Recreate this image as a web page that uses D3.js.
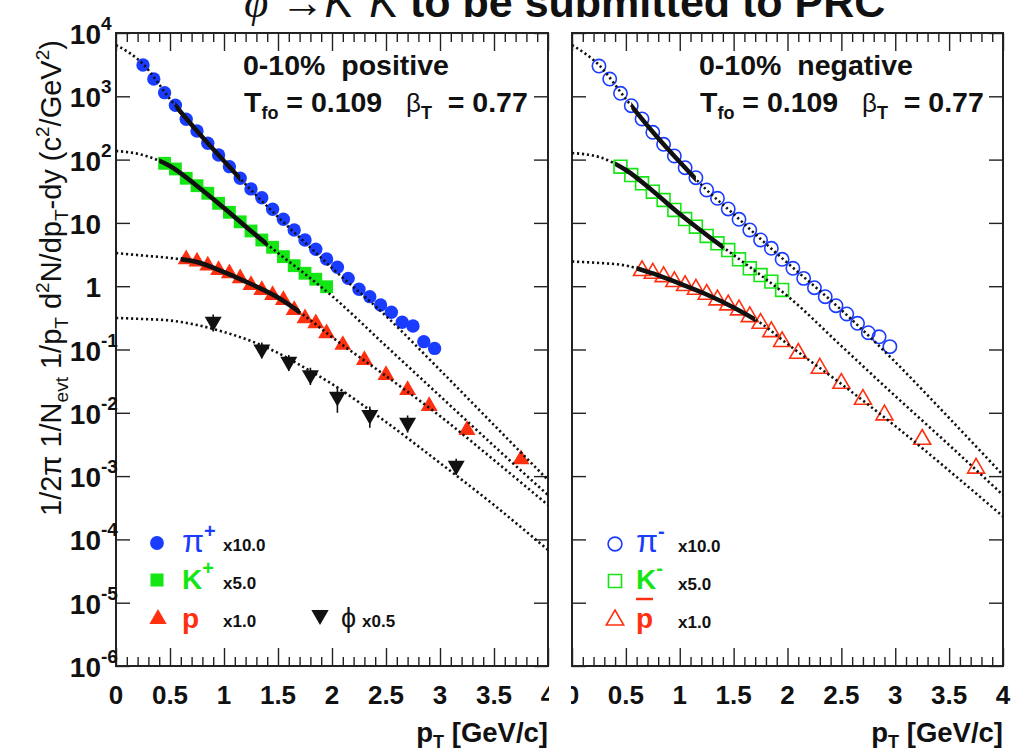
<!DOCTYPE html>
<html>
<head>
<meta charset="utf-8">
<script src="https://cdn.jsdelivr.net/npm/d3@7"></script>
<style>
  body { margin: 0; background: #fff; }
  svg { display: block; font-family: "Liberation Sans", Arial, Helvetica, sans-serif; }
  text { white-space: pre; }
</style>
</head>
<body>
<svg id="chart" width="1019" height="751"></svg>
<script>
// ---- data ----
var piPt  = [0.25,0.35,0.45,0.55,0.65,0.75,0.85,0.95,1.05,1.15,1.25,1.35,1.45,1.55,
             1.65,1.75,1.85,1.95,2.05,2.15,2.25,2.35,2.45,2.55,2.65,2.75,2.85,2.95];
var kPt   = [0.45,0.55,0.65,0.75,0.85,0.95,1.05,1.15,1.25,1.35,1.45,1.55,1.65,1.75,1.85,1.95];
var pPt   = [0.65,0.75,0.85,0.95,1.05,1.15,1.25,1.35,1.45,1.55,1.65,1.75,1.85,1.95,
             2.1,2.3,2.5,2.7,2.9,3.25,3.75];
var phiPt = [0.9,1.35,1.6,1.8,2.05,2.35,2.7,3.15];

// positive (left)
var piPlus = [3120,1875,1140,721,434,283,181,118,77.3,50.7,34.4,25.0,16.4,11.4,
              7.73,5.37,3.83,2.69,1.99,1.33,0.894,0.683,0.505,0.387,0.269,0.235,0.133,0.104];
var kPlus  = [87.4,71.1,50.7,38.7,29.4,20.4,14.7,10.4,7.45,5.37,4.12,2.93,2.11,1.60,1.29,0.98];
var proton = [2.66,2.44,2.11,1.80,1.60,1.33,1.04,0.871,0.726,0.605,0.421,0.311,0.259,0.180,
              0.118,0.0683,0.0395,0.0229,0.0128,0.00535,0.00184];
var phiVal = [0.275,0.1007,0.0641,0.0395,0.0180,0.00923,0.00698,0.00146];
var phiErr = [0.083,0.028,0.018,0.012,0.008,0.0034,0.0021,0.00042];

// negative (right)
var piMinus = [3010,1875,1115,711,438,270,174.5,114,74.5,51.8,33.1,24.5,16.6,11.4,
               7.73,5.37,3.97,2.66,1.92,1.33,0.947,0.683,0.492,0.364,0.259,0.184,0.159,0.111];
var kMinus  = [77.3,57.1,42.2,31.1,23.0,16.0,11.5,8.71,6.21,4.76,3.73,2.66,1.92,1.50,1.18,0.871];
var pbar    = [1.76,1.60,1.41,1.18,1.02,0.894,0.745,0.605,0.505,0.421,0.330,0.259,0.191,0.133,
               0.0871,0.0505,0.0292,0.0163,0.00923,0.00381,0.00133];

// blast-wave curves (dotted), read at these pT
var modelPt = [0,0.25,0.5,0.75,1,1.25,1.5,1.75,2,2.5,3,3.5,4];
var bwPiPlus  = [6460,3240,906,283,95.0,33.1,12.4,4.90,1.94,0.338,0.0474,0.00641,0.000867];
var bwKPlus   = [137,118,79.3,38.3,17.2,7.44,3.34,1.56,0.700,0.1135,0.0184,0.00299,0.000502];
var bwProton  = [3.34,3.05,2.79,2.41,1.67,1.08,0.663,0.338,0.157,0.0381,0.00889,0.00179,0.000349];
var bwPhi     = [0.315,0.303,0.287,0.244,0.189,0.136,0.0881,0.0510,0.0285,0.00716,0.00161,0.000349,6.81e-5];
var bwPiMinus = [6460,3123,906,273,91.6,33.1,13.8,5.57,2.33,0.421,0.0635,0.00828,0.00104];
var bwKMinus  = [127,110,68.5,31.9,13.8,6.44,3.11,1.50,0.700,0.1135,0.0184,0.00310,0.000502];
var bwPbar    = [2.45,2.33,2.12,1.59,1.10,0.740,0.461,0.262,0.122,0.0285,0.00618,0.00122,0.000230];

// fit ranges (solid part of the curves)
var piFit = [0.55, 1.15];
var kFit  = [0.4, 1.4];
var pFit  = [0.6, 1.7];

var scaleLabels = ['x10.0', 'x5.0', 'x1.0', 'x0.5'];
var xMajor = [0,0.5,1,1.5,2,2.5,3,3.5,4];
var xTickLabels = ['0','0.5','1','1.5','2','2.5','3','3.5','4'];
var yExp = [-6,-5,-4,-3,-2,-1,0,1,2,3,4];

// ---- style ----
var blue = '#1a3cff', green = '#14e614', red = '#ff3010', ink = '#111';
var plotTop = 33, plotBottom = 666;

var svg = d3.select('#chart');
var y = d3.scaleLog().domain([1e-6, 1e4]).range([plotBottom, plotTop]);

var defs = svg.append('defs');

function zip(xs, ys) { return xs.map(function(v, i) { return [v, ys[i]]; }); }

function drawPanel(p, idx) {
    var x = d3.scaleLinear().domain([0, 4]).range([p.x0, p.x1]);
    var g = svg.append('g');

    defs.append('clipPath').attr('id', 'plot' + idx).append('rect')
        .attr('x', p.x0).attr('y', plotTop).attr('width', p.x1 - p.x0).attr('height', plotBottom - plotTop);
    defs.append('clipPath').attr('id', 'pad' + idx).append('rect')
        .attr('x', p.padX0).attr('y', 0).attr('width', p.padX1 - p.padX0).attr('height', 751);

    // ticks
    var xMinor = x.ticks(40).filter(function(t) { return xMajor.indexOf(+t.toFixed(2)) < 0; });
    var yMinor = y.ticks().filter(function(t) { return Math.abs(Math.log10(t) - Math.round(Math.log10(t))) > 1e-6; });
    var yMajor = yExp.map(function(e) { return Math.pow(10, e); });

    function styleAxis(a) {
        a.select('.domain').remove();
        a.selectAll('line').attr('stroke', '#222').attr('stroke-width', 1.4);
        a.selectAll('text').remove();
    }
    g.append('g').attr('transform', 'translate(0,' + plotBottom + ')')
        .call(d3.axisBottom(x).tickValues(xMajor).tickSize(-18)).call(styleAxis);
    g.append('g').attr('transform', 'translate(0,' + plotBottom + ')')
        .call(d3.axisBottom(x).tickValues(xMinor).tickSize(-9)).call(styleAxis);
    g.append('g').attr('transform', 'translate(0,' + plotTop + ')')
        .call(d3.axisTop(x).tickValues(xMajor).tickSize(-18)).call(styleAxis);
    g.append('g').attr('transform', 'translate(0,' + plotTop + ')')
        .call(d3.axisTop(x).tickValues(xMinor).tickSize(-9)).call(styleAxis);
    g.append('g').attr('transform', 'translate(' + p.x0 + ',0)')
        .call(d3.axisLeft(y).tickValues(yMajor).tickSize(-14)).call(styleAxis);
    g.append('g').attr('transform', 'translate(' + p.x0 + ',0)')
        .call(d3.axisLeft(y).tickValues(yMinor).tickSize(-7)).call(styleAxis);
    g.append('g').attr('transform', 'translate(' + p.x1 + ',0)')
        .call(d3.axisRight(y).tickValues(yMajor).tickSize(-14)).call(styleAxis);
    g.append('g').attr('transform', 'translate(' + p.x1 + ',0)')
        .call(d3.axisRight(y).tickValues(yMinor).tickSize(-7)).call(styleAxis);

    g.append('rect').attr('x', p.x0).attr('y', plotTop)
        .attr('width', p.x1 - p.x0).attr('height', plotBottom - plotTop)
        .attr('fill', 'none').attr('stroke', '#222').attr('stroke-width', 2);

    // x tick labels
    g.append('g').attr('clip-path', 'url(#pad' + idx + ')')
        .selectAll('text').data(xMajor).join('text')
        .attr('x', function(d) { return x(d); }).attr('y', 704)
        .attr('text-anchor', 'middle').attr('font-size', 26).attr('font-weight', 'bold')
        .attr('fill', ink)
        .text(function(d, i) { return xTickLabels[i]; });

    // x title
    var xt = g.append('text').attr('x', p.x1).attr('y', 742).attr('text-anchor', 'end')
        .attr('font-size', 27.5).attr('font-weight', 'bold').attr('fill', ink);
    xt.append('tspan').text('p');
    xt.append('tspan').attr('font-size', 18).attr('dy', 6).text('T');
    xt.append('tspan').attr('dy', -6).text(' [GeV/c]');

    // panel headers
    g.append('text').attr('x', p.headX).attr('y', 75)
        .attr('font-size', 28.5).attr('font-weight', 'bold').attr('fill', ink)
        .text('0-10%  ' + p.name);
    var tt = g.append('text').attr('x', p.headX + 1).attr('y', 112)
        .attr('font-size', 28.5).attr('font-weight', 'bold').attr('fill', ink);
    tt.append('tspan').text('T');
    tt.append('tspan').attr('font-size', 18).attr('dy', 7).text('fo');
    tt.append('tspan').attr('dy', -7).text(' = 0.109   ');
    tt.append('tspan').attr('font-weight', 'normal').attr('font-size', 26).text('β');
    tt.append('tspan').attr('font-size', 18).attr('dy', 7).text('T');
    tt.append('tspan').attr('dy', -7).text('  = 0.77');

    // markers
    var plot = g.append('g').attr('clip-path', 'url(#plot' + idx + ')');
    p.series.forEach(function(s) {
        var sym = d3.symbol().type(s.shape).size(s.size);
        if (s.err) {
            plot.append('g').selectAll('line').data(zip(s.pt, s.val)).join('line')
                .attr('x1', function(d) { return x(d[0]); })
                .attr('x2', function(d) { return x(d[0]); })
                .attr('y1', function(d, i) { return y(d[1] - s.err[i]); })
                .attr('y2', function(d, i) { return y(d[1] + s.err[i]); })
                .attr('stroke', s.color).attr('stroke-width', 1.6);
        }
        plot.append('g').selectAll('path').data(zip(s.pt, s.val)).join('path')
            .attr('d', sym)
            .attr('transform', function(d) {
                return 'translate(' + x(d[0]) + ',' + y(d[1]) + ')' + (s.flip ? ' rotate(180)' : '');
            })
            .attr('fill', s.open ? 'none' : s.color)
            .attr('stroke', s.color).attr('stroke-width', s.open ? 1.6 : 0);
    });

    // blast-wave curves
    var line = d3.line().x(function(d) { return x(d[0]); }).y(function(d) { return y(d[1]); })
        .curve(d3.curveMonotoneX);
    p.curves.forEach(function(c, ci) {
        plot.append('path').datum(zip(modelPt, c.val)).attr('d', line)
            .attr('fill', 'none').attr('stroke', ink).attr('stroke-width', 2.6)
            .attr('stroke-dasharray', '2.2,2.8');
        if (c.fit) {
            var cid = 'fit' + idx + '_' + ci;
            defs.append('clipPath').attr('id', cid).append('rect')
                .attr('x', x(c.fit[0])).attr('y', plotTop)
                .attr('width', x(c.fit[1]) - x(c.fit[0])).attr('height', plotBottom - plotTop);
            plot.append('path').datum(zip(modelPt, c.val)).attr('d', line)
                .attr('clip-path', 'url(#' + cid + ')')
                .attr('fill', 'none').attr('stroke', ink).attr('stroke-width', 4.5);
        }
    });

    // legend
    var lg = g.append('g');
    p.legend.forEach(function(l, i) {
        var sym = d3.symbol().type(l.shape).size(l.size);
        lg.append('path').attr('d', sym)
            .attr('transform', 'translate(' + l.mx + ',' + l.my + ')' + (l.flip ? ' rotate(180)' : ''))
            .attr('fill', l.open ? 'none' : l.color)
            .attr('stroke', l.color).attr('stroke-width', l.open ? 1.6 : 0);
        var t = lg.append('text').attr('x', l.tx).attr('y', l.ty)
            .attr('font-weight', 'bold').attr('fill', l.color);
        t.append('tspan').attr('font-size', l.bigSize).attr('font-weight', l.bigWeight)
            .text(l.main);
        if (l.sup) t.append('tspan').attr('font-size', 20).attr('dy', -14).text(l.sup);
        if (l.bar) {
            lg.append('line').attr('x1', l.tx).attr('x2', l.tx + 17)
                .attr('y1', l.ty - 29).attr('y2', l.ty - 29)
                .attr('stroke', l.color).attr('stroke-width', 2.5);
        }
        lg.append('text').attr('x', l.sx).attr('y', l.sy)
            .attr('font-size', 17).attr('font-weight', 'bold').attr('fill', ink)
            .text(l.scale);
    });
}

var panels = [
    {
        x0: 116, x1: 548, padX0: 0, padX1: 549, headX: 243, name: 'positive',
        series: [
            {pt: piPt, val: piPlus, shape: d3.symbolCircle, size: 140, color: blue},
            {pt: kPt, val: kPlus, shape: d3.symbolSquare, size: 165, color: green},
            {pt: pPt, val: proton, shape: d3.symbolTriangle, size: 125, color: red},
            {pt: phiPt, val: phiVal, err: phiErr, shape: d3.symbolTriangle, size: 125, color: ink, flip: true}
        ],
        curves: [
            {val: bwPiPlus, fit: piFit}, {val: bwKPlus, fit: kFit},
            {val: bwProton, fit: pFit}, {val: bwPhi}
        ],
        legend: [
            {shape: d3.symbolCircle, size: 150, color: blue, mx: 157, my: 543, tx: 182, ty: 552,
             main: 'π', sup: '+', bigSize: 32, bigWeight: 'normal', sx: 223, sy: 551, scale: scaleLabels[0]},
            {shape: d3.symbolSquare, size: 170, color: green, mx: 157, my: 580, tx: 182, ty: 589,
             main: 'K', sup: '+', bigSize: 28, bigWeight: 'bold', sx: 223, sy: 589, scale: scaleLabels[1]},
            {shape: d3.symbolTriangle, size: 130, color: red, mx: 158, my: 619, tx: 182, ty: 628,
             main: 'p', bigSize: 28, bigWeight: 'bold', sx: 223, sy: 627, scale: scaleLabels[2]},
            {shape: d3.symbolTriangle, size: 130, color: ink, flip: true, mx: 320, my: 615, tx: 341, ty: 627,
             main: 'ϕ', bigSize: 27, bigWeight: 'normal', sx: 362, sy: 627, scale: scaleLabels[3]}
        ]
    },
    {
        x0: 572, x1: 1003, padX0: 571, padX1: 1019, headX: 699, name: 'negative',
        series: [
            {pt: piPt, val: piMinus, shape: d3.symbolCircle, size: 140, color: blue, open: true},
            {pt: kPt, val: kMinus, shape: d3.symbolSquare, size: 165, color: green, open: true},
            {pt: pPt, val: pbar, shape: d3.symbolTriangle, size: 125, color: red, open: true}
        ],
        curves: [
            {val: bwPiMinus, fit: piFit}, {val: bwKMinus, fit: kFit}, {val: bwPbar, fit: pFit}
        ],
        legend: [
            {shape: d3.symbolCircle, size: 150, color: blue, open: true, mx: 615, my: 544, tx: 636, ty: 552,
             main: 'π', sup: '-', bigSize: 32, bigWeight: 'normal', sx: 678, sy: 552, scale: scaleLabels[0]},
            {shape: d3.symbolSquare, size: 170, color: green, open: true, mx: 615, my: 581, tx: 636, ty: 589,
             main: 'K', sup: '-', bigSize: 28, bigWeight: 'bold', sx: 678, sy: 590, scale: scaleLabels[1]},
            {shape: d3.symbolTriangle, size: 130, color: red, open: true, mx: 615, my: 620, tx: 636, ty: 628,
             main: 'p', bar: true, bigSize: 28, bigWeight: 'bold', sx: 678, sy: 628, scale: scaleLabels[2]}
        ]
    }
];

panels.forEach(drawPanel);

// y tick labels (left pad only)
var yl = svg.append('g').attr('font-weight', 'bold').attr('fill', ink);
yExp.forEach(function(e) {
    var yy = y(Math.pow(10, e));
    var base = e === 0 ? '1' : '10';
    yl.append('text').attr('x', 101).attr('y', yy + 11).attr('text-anchor', 'end')
        .attr('font-size', 28).text(base);
    if (e !== 0 && e !== 1) {
        yl.append('text').attr('x', 101).attr('y', yy - 3).attr('font-size', 19).text(String(e));
    }
});

// y title
var yt = svg.append('text').attr('transform', 'translate(61,278) rotate(-90)')
    .attr('text-anchor', 'middle').attr('font-size', 29).attr('fill', ink);
yt.append('tspan').text('1/2π 1/N');
yt.append('tspan').attr('font-size', 19).attr('dy', 7).text('evt');
yt.append('tspan').attr('dy', -7).text(' 1/p');
yt.append('tspan').attr('font-size', 19).attr('dy', 7).text('T');
yt.append('tspan').attr('dy', -7).text(' d');
yt.append('tspan').attr('font-size', 19).attr('dy', -12).text('2');
yt.append('tspan').attr('dy', 12).text('N/dp');
yt.append('tspan').attr('font-size', 19).attr('dy', 7).text('T');
yt.append('tspan').attr('dy', -7).text('-dy (c');
yt.append('tspan').attr('font-size', 19).attr('dy', -12).text('2');
yt.append('tspan').attr('dy', 12).text('/GeV');
yt.append('tspan').attr('font-size', 19).attr('dy', -12).text('2');
yt.append('tspan').attr('dy', 12).text(')');

// title (cut by the top edge)
var t1 = svg.append('text').attr('x', 244).attr('y', 17).attr('fill', ink).attr('font-size', 44);
t1.append('tspan').attr('font-style', 'italic').attr('font-family', '"Liberation Serif", serif').text('φ');
t1.append('tspan').text(' →');
t1.append('tspan').attr('font-style', 'italic').text('K');
t1.append('tspan').attr('font-size', 26).attr('dy', -18).text('+');
t1.append('tspan').attr('dy', 18).attr('font-style', 'italic').text('K');
t1.append('tspan').attr('font-size', 26).attr('dy', -18).text('-');
svg.append('text').attr('x', 410).attr('y', 17).attr('fill', ink).attr('font-size', 43)
    .attr('font-weight', 'bold').text('to be submitted to PRC');
</script>
</body>
</html>
